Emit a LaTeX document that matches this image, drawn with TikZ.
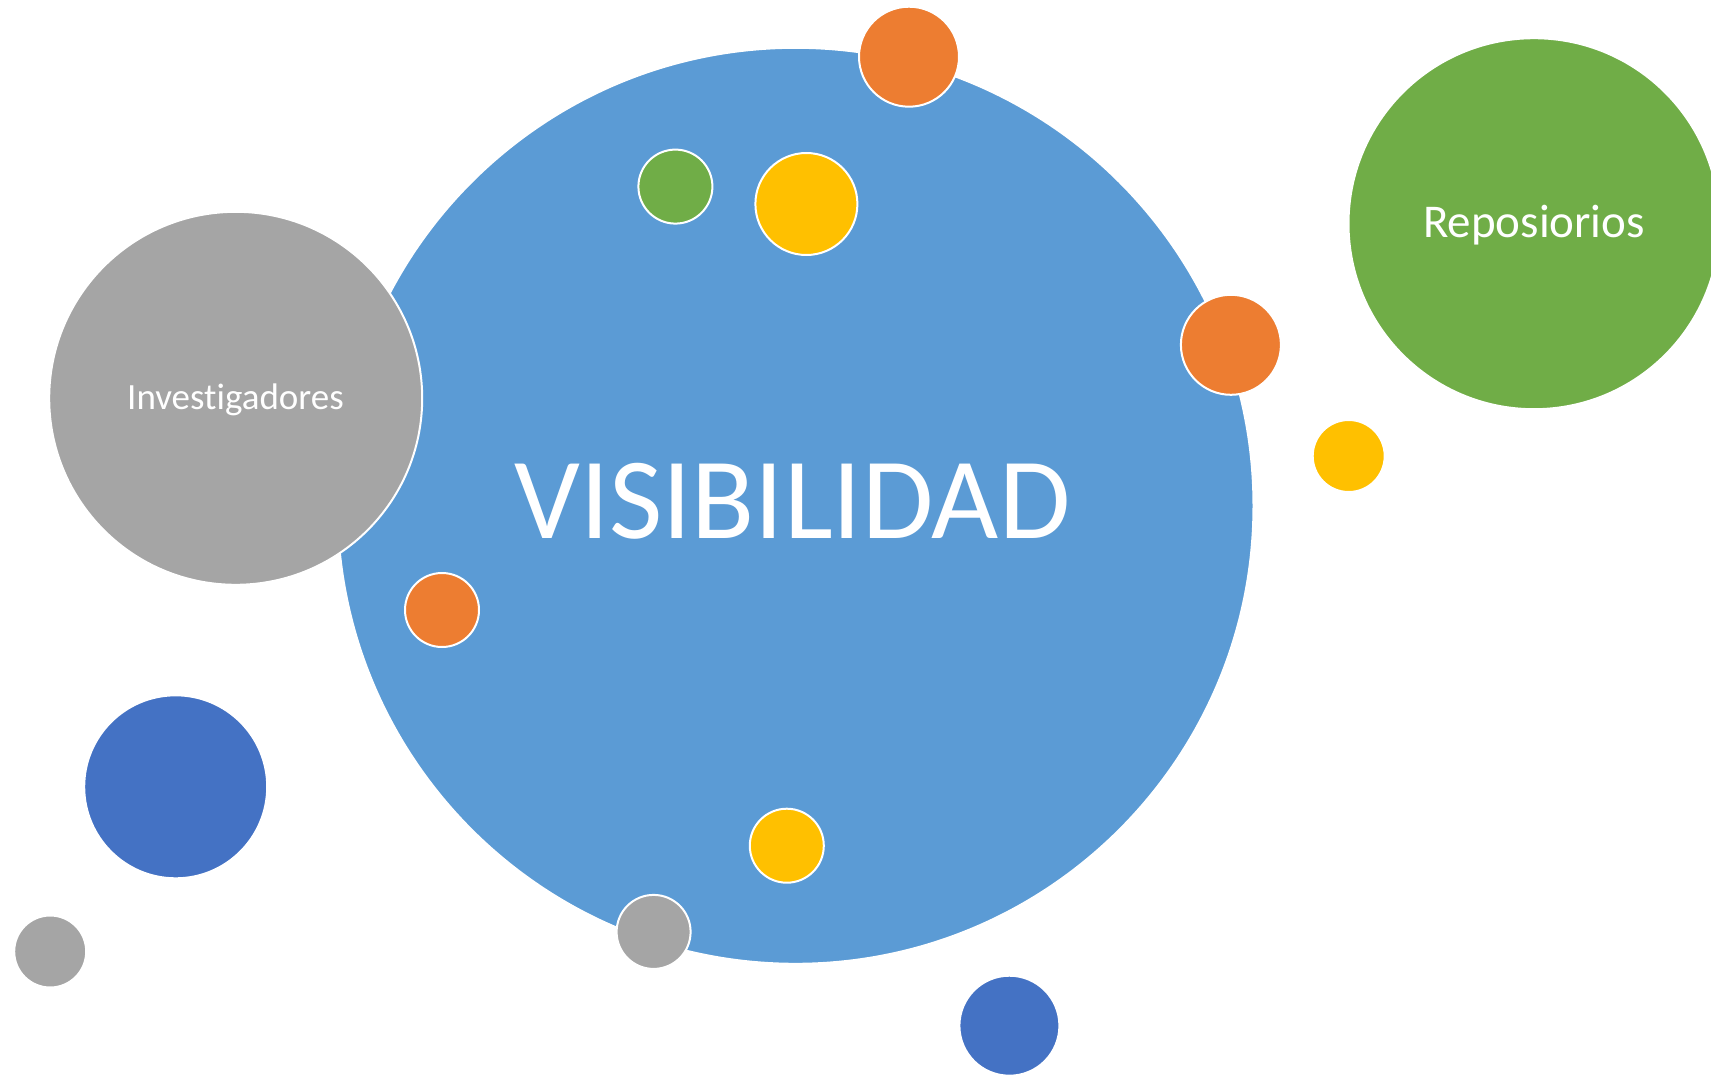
\documentclass[tikz,border=0pt]{standalone}
\usepackage{fontspec}
\setmainfont{Carlito}[Ligatures=NoCommon]
\definecolor{cblue}{HTML}{5B9BD5}
\definecolor{cgray}{HTML}{A5A5A5}
\definecolor{cgreen}{HTML}{70AD47}
\definecolor{corange}{HTML}{ED7D31}
\definecolor{cyellow}{HTML}{FFC000}
\definecolor{cdblue}{HTML}{4472C4}
\begin{document}
\begin{tikzpicture}[x=1pt,y=-1pt,
  bub/.style={circle,draw=white,line width=2pt,inner sep=0pt,outer sep=0pt,minimum size=#1},
  lbl/.style={text=white,anchor=base,inner sep=0pt}]
\useasboundingbox (0,0) rectangle (1711,1081);
\begin{scope}
\clip (0,0) rectangle (1711,1081);
\node[bub=916pt,fill=cblue] (vis) at (795.5,505.8) {};
\node[bub=373pt,fill=cgray] (inv) at (235.7,398.3) {};
\node[bub=371pt,fill=cgreen] (rep) at (1534,223.7) {};
\node[bub=100pt,fill=corange] (o1) at (909,56.7) {};
\node[bub=74pt,fill=cgreen] (g1) at (675.4,186.6) {};
\node[bub=102pt,fill=cyellow] (y1) at (806.4,204) {};
\node[bub=100pt,fill=corange] (o2) at (1230.9,344.8) {};
\node[bub=72pt,fill=cyellow] (y2) at (1348.7,456) {};
\node[bub=74pt,fill=corange] (o3) at (442,610) {};
\node[bub=183pt,fill=cdblue] (b1) at (175.7,786.8) {};
\node[bub=72pt,fill=cgray] (gr1) at (50.2,951.5) {};
\node[bub=74pt,fill=cyellow] (y3) at (786.8,845.7) {};
\node[bub=74pt,fill=cgray] (gr2) at (653.6,931.9) {};
\node[bub=100pt,fill=cdblue] (b2) at (1009.4,1025.7) {};
\end{scope}
\node[lbl,font=\fontsize{116}{116}\selectfont] (tvis) at (792.4,538.5) {VISIBILIDAD};
\node[lbl,font=\fontsize{37}{37}\selectfont] (tinv) at (235.5,409) {Invest\kern0pt igadores};
\node[lbl,font=\fontsize{47}{47}\selectfont] (trep) at (1534,237.5) {Reposiorios};
\end{tikzpicture}
\end{document}
